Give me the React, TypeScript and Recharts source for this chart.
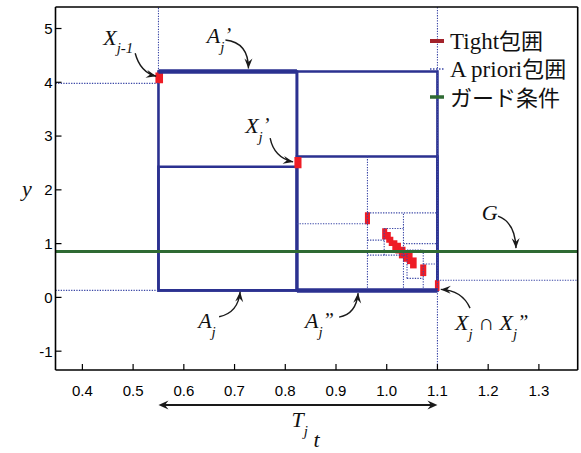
import React from 'react';
import { ComposedChart, Line, XAxis, YAxis, ReferenceLine, ReferenceArea, ReferenceDot, Legend } from 'recharts';

const xDomain = [0.347, 1.3765];
const yDomain = [-1.35, 5.4];
const xTicks = [0.4, 0.5, 0.6, 0.7, 0.8, 0.9, 1.0, 1.1, 1.2, 1.3];
const yTicks = [-1, 0, 1, 2, 3, 4, 5];

// guard condition G (horizontal line across the plot)
const guardT = [0.347, 1.3765];
const guardY = [0.855, 0.855];
const guardData = guardT.map((t, i) => ({ t, g: guardY[i] }));

// a priori enclosures drawn with solid outlines
const boxX1 = [0.55, 0.823, 0.55, 0.823];
const boxX2 = [0.823, 1.1, 0.823, 1.1];
const boxY1 = [0.13, 0.13, 0.13, 0.13];
const boxY2 = [4.2, 4.2, 2.43, 2.62];

// highlighted (thick) edges: A_j' and A_j''
const thickX1 = [0.55, 0.823];
const thickX2 = [0.823, 1.1];
const thickY = [4.2, 0.13];

// dotted a priori enclosure edges
const dotX1 = [0.55, 0.347, 0.347, 1.1, 1.1, 0.962, 0.823, 0.962, 1.033, 0.962, 0.995, 0.995, 1.033, 0.962, 1.04, 1.04, 1.072, 1.072, 1.04];
const dotY1 = [4.2, 3.98, 0.13, -1.35, 0.32, 0.13, 1.37, 1.572, 0.13, 1.065, 1.28, 0.786, 1.0, 0.786, 0.353, 0.88, 0.13, 0.62, 0.353];
const dotX2 = [0.55, 0.55, 0.55, 1.1, 1.3765, 0.962, 0.962, 1.1, 1.033, 0.995, 1.033, 0.995, 1.097, 1.04, 1.04, 1.072, 1.072, 1.1, 1.072];
const dotY2 = [5.4, 3.98, 0.13, 5.4, 0.32, 2.62, 1.37, 1.572, 1.572, 1.065, 1.28, 1.28, 1.0, 0.786, 0.88, 0.88, 0.88, 0.62, 0.353];

// tight enclosures (red blocks)
const tightX1 = [0.544, 0.818, 1.095, 0.957, 0.991, 0.999, 1.004, 1.011, 1.017, 1.024, 1.032, 1.040, 1.046, 1.066];
const tightX2 = [0.559, 0.832, 1.104, 0.967, 1.001, 1.008, 1.013, 1.021, 1.028, 1.037, 1.045, 1.051, 1.059, 1.078];
const tightY1 = [3.98, 2.40, 0.12, 1.36, 1.078, 1.015, 0.954, 0.879, 0.818, 0.725, 0.662, 0.619, 0.539, 0.396];
const tightY2 = [4.18, 2.61, 0.32, 1.585, 1.288, 1.214, 1.126, 1.065, 1.015, 0.94, 0.879, 0.829, 0.743, 0.613];

// T_j interval
const intervalT = [0.55, 1.1];
const intervalY = -2.0;

// annotation anchors (arrow tips) in data space
const annotNames = ['Xj-1', "Aj'", "Xj'", 'G', 'Aj', "Aj''", 'XjXj'];
const annotX = [0.5455, 0.7274, 0.8155, 1.2549, 0.711, 0.9436, 1.1065];
const annotY = [4.113, 4.257, 2.52, 0.916, 0.104, 0.08, 0.149];

const legendLatin = ['Tight', 'A priori', ''];
const legendCJK = ['包囲', '包囲', 'ガード条件'];

const NAVY = '#2b3190';
const DOT = '#3b47a6';
const RED = '#ee1c25';
const GREEN = '#2f6a33';
const SERIF = "'Liberation Serif', 'Times New Roman', serif";
const CJK = "'Noto Sans CJK JP', sans-serif";

type Part = { t: string; shift?: number; size?: number; upright?: boolean };
type Layout = { text: [number, number]; start: [number, number]; ctrl: [number, number]; parts: Part[] };

const layouts: Record<string, Layout> = {
  'Xj-1': { text: [-53, -31], start: [-21, -23], ctrl: [-16, -4], parts: [{ t: 'X' }, { t: 'j-1', shift: 8, size: 15 }] },
  "Aj'": { text: [-41.6, -25.3], start: [-23, -28.5], ctrl: [0, -26], parts: [{ t: 'A' }, { t: 'j', shift: 9, size: 15 }, { t: '’', shift: -1, size: 20 }] },
  "Xj'": { text: [-48, -28.7], start: [-23, -23.7], ctrl: [-19, -4], parts: [{ t: 'X' }, { t: 'j', shift: 9, size: 15 }, { t: '’', shift: -1, size: 20 }] },
  G: { text: [-34.3, -28], start: [-18, -32], ctrl: [-1, -26], parts: [{ t: 'G' }] },
  Aj: { text: [-42, 36.3], start: [-21, 25], ctrl: [-2, 21], parts: [{ t: 'A' }, { t: 'j', shift: 9, size: 15 }] },
  "Aj''": { text: [-53, 35], start: [-19, 24], ctrl: [-2, 21], parts: [{ t: 'A' }, { t: 'j', shift: 9, size: 15 }, { t: '”', shift: -1, size: 20 }] },
  XjXj: {
    text: [14.3, 40.7], start: [29.3, 18.7], ctrl: [21, 0.7],
    parts: [{ t: 'X' }, { t: 'j', shift: 9, size: 15 }, { t: ' ∩ ', upright: true }, { t: 'X' }, { t: 'j', shift: 9, size: 15 }, { t: '”', shift: -1, size: 20 }],
  },
};

function head(tx: number, ty: number, fx: number, fy: number, len = 10, half = 4) {
  const dx = tx - fx;
  const dy = ty - fy;
  const l = Math.hypot(dx, dy) || 1;
  const ux = dx / l;
  const uy = dy / l;
  const nx = -uy;
  const ny = ux;
  const bx = tx - ux * len;
  const by = ty - uy * len;
  const mx = tx - ux * len * 0.65;
  const my = ty - uy * len * 0.65;
  return `${tx},${ty} ${bx + nx * half},${by + ny * half} ${mx},${my} ${bx - nx * half},${by - ny * half}`;
}

function RichText({ x, y, parts }: { x: number; y: number; parts: Part[] }) {
  let prev = 0;
  return (
    <text x={x} y={y} fontFamily={SERIF} fontSize={22} fill="#111">
      {parts.map((p, i) => {
        const s = p.shift || 0;
        const dy = s - prev;
        prev = s;
        return (
          <tspan key={i} dy={dy} fontSize={p.size || 22} fontStyle={p.upright ? 'normal' : 'italic'}>
            {p.t}
          </tspan>
        );
      })}
    </text>
  );
}

function makeAnnot(name: string) {
  const L = layouts[name];
  return (props: any) => {
    const { cx, cy } = props;
    const sx = cx + L.start[0];
    const sy = cy + L.start[1];
    const qx = cx + L.ctrl[0];
    const qy = cy + L.ctrl[1];
    return (
      <g>
        <path d={`M${sx},${sy} Q${qx},${qy} ${cx},${cy}`} fill="none" stroke="#1a1a1a" strokeWidth={1.4} />
        <polygon points={head(cx, cy, qx, qy)} fill="#1a1a1a" />
        <RichText x={cx + L.text[0]} y={cy + L.text[1]} parts={L.parts} />
      </g>
    );
  };
}

const IntervalShape = (props: any) => {
  const { x1, y1, x2 } = props;
  const mid = (x1 + x2) / 2;
  return (
    <g>
      <line x1={x1 + 4} y1={y1} x2={x2 - 4} y2={y1} stroke="#1a1a1a" strokeWidth={2} />
      <polygon points={head(x1, y1, x1 + 10, y1, 10, 4.5)} fill="#1a1a1a" />
      <polygon points={head(x2, y1, x2 - 10, y1, 10, 4.5)} fill="#1a1a1a" />
      <RichText x={mid - 6.5} y={y1 + 22} parts={[{ t: 'T' }, { t: 'j', shift: 9, size: 15 }]} />
    </g>
  );
};

const legendStyles = [
  { stroke: '#a3232b', width: 4, dash: undefined as string | undefined },
  { stroke: DOT, width: 1.3, dash: '1.5 1.5' },
  { stroke: GREEN, width: 3.5, dash: undefined as string | undefined },
];

const LegendBox = () => (
  <div style={{ fontSize: 23, color: '#111' }}>
    {legendCJK.map((cjk, i) => (
      <div key={i} style={{ display: 'flex', alignItems: 'center', height: 28.3, whiteSpace: 'nowrap' }}>
        <svg width={22} height={10} style={{ display: 'block' }}>
          <line x1={2} x2={16} y1={5} y2={5} stroke={legendStyles[i].stroke} strokeWidth={legendStyles[i].width} strokeDasharray={legendStyles[i].dash} />
        </svg>
        <span style={{ lineHeight: '24px' }}>
          {legendLatin[i] ? <span style={{ fontFamily: SERIF }}>{legendLatin[i]}</span> : null}
          <span style={{ fontFamily: CJK, fontSize: 22 }}>{cjk}</span>
        </span>
      </div>
    ))}
  </div>
);

const tickStyle = { fill: '#000', fontSize: 15, fontFamily: "'Liberation Sans', Arial, sans-serif" };

export default function App() {
  return (
    <div style={{ position: 'absolute', left: 0, top: 0, width: 581, height: 453, background: '#fff' }}>
      <ComposedChart width={581} height={453} data={guardData} margin={{ top: 6, right: 2.3, bottom: 0, left: 0 }}>
        <XAxis
          xAxisId="b" dataKey="t" type="number" domain={xDomain} ticks={xTicks} interval={0} allowDataOverflow
          height={83} tickSize={-6} tickMargin={21} tick={tickStyle}
          tickFormatter={(v: number) => v.toFixed(1)}
          axisLine={{ stroke: '#000', strokeWidth: 1.6 }} tickLine={{ stroke: '#000', strokeWidth: 1.2 }}
          label={{ value: 't', position: 'insideBottom', offset: 6, fontFamily: SERIF, fontStyle: 'italic', fontSize: 22, fill: '#111' }}
        />
        <XAxis
          xAxisId="t" dataKey="t" orientation="top" type="number" domain={xDomain} ticks={xTicks} interval={0} allowDataOverflow
          height={1} tickSize={-6} tick={false}
          axisLine={{ stroke: '#000', strokeWidth: 1.6 }} tickLine={{ stroke: '#000', strokeWidth: 1.2 }}
        />
        <YAxis
          yAxisId="l" type="number" domain={yDomain} ticks={yTicks} interval={0} allowDataOverflow
          width={55.5} tickSize={-6} tickMargin={9} tick={tickStyle}
          axisLine={{ stroke: '#000', strokeWidth: 1.6 }} tickLine={{ stroke: '#000', strokeWidth: 1.2 }}
          label={{ value: 'y', position: 'insideLeft', offset: 22, fontFamily: SERIF, fontStyle: 'italic', fontSize: 22, fill: '#111' }}
        />
        <YAxis
          yAxisId="r" orientation="right" type="number" domain={yDomain} ticks={yTicks} interval={0} allowDataOverflow
          width={1} tickSize={-6} tick={false}
          axisLine={{ stroke: '#000', strokeWidth: 1.6 }} tickLine={{ stroke: '#000', strokeWidth: 1.2 }}
        />

        {dotX1.map((_, i) => (
          <ReferenceLine
            key={`d${i}`} xAxisId="b" yAxisId="l" ifOverflow="hidden"
            segment={[{ x: dotX1[i], y: dotY1[i] }, { x: dotX2[i], y: dotY2[i] }]}
            stroke={DOT} strokeWidth={1.1} strokeDasharray="1.3 1.3"
          />
        ))}

        {boxX1.map((_, i) => (
          <ReferenceArea
            key={`b${i}`} xAxisId="b" yAxisId="l" ifOverflow="hidden"
            x1={boxX1[i]} x2={boxX2[i]} y1={boxY1[i]} y2={boxY2[i]}
            fill="none" fillOpacity={0} stroke={NAVY} strokeWidth={2.6}
          />
        ))}

        {thickX1.map((_, i) => (
          <ReferenceLine
            key={`t${i}`} xAxisId="b" yAxisId="l" ifOverflow="hidden"
            segment={[{ x: thickX1[i], y: thickY[i] }, { x: thickX2[i], y: thickY[i] }]}
            stroke={NAVY} strokeWidth={4.5}
          />
        ))}

        <Line
          xAxisId="b" yAxisId="l" dataKey="g" stroke={GREEN} strokeWidth={3} dot={false}
          activeDot={false} isAnimationActive={false} legendType="none"
        />

        {tightX1.map((_, i) => (
          <ReferenceArea
            key={`r${i}`} xAxisId="b" yAxisId="l" ifOverflow="hidden"
            x1={tightX1[i]} x2={tightX2[i]} y1={tightY1[i]} y2={tightY2[i]}
            fill={RED} fillOpacity={1} stroke="none"
          />
        ))}

        <ReferenceLine
          xAxisId="b" yAxisId="l" ifOverflow="visible"
          segment={[{ x: intervalT[0], y: intervalY }, { x: intervalT[1], y: intervalY }]}
          shape={IntervalShape}
        />

        {annotNames.map((n, i) => (
          <ReferenceDot
            key={`a${i}`} xAxisId="b" yAxisId="l" ifOverflow="visible"
            x={annotX[i]} y={annotY[i]} r={1} shape={makeAnnot(n)}
          />
        ))}

        <Legend
          layout="horizontal" align="center" verticalAlign="middle"
          content={() => <LegendBox />}
          wrapperStyle={{ position: 'absolute', left: 428, top: 26.5, width: 160, height: 86 }}
        />
      </ComposedChart>
    </div>
  );
}
